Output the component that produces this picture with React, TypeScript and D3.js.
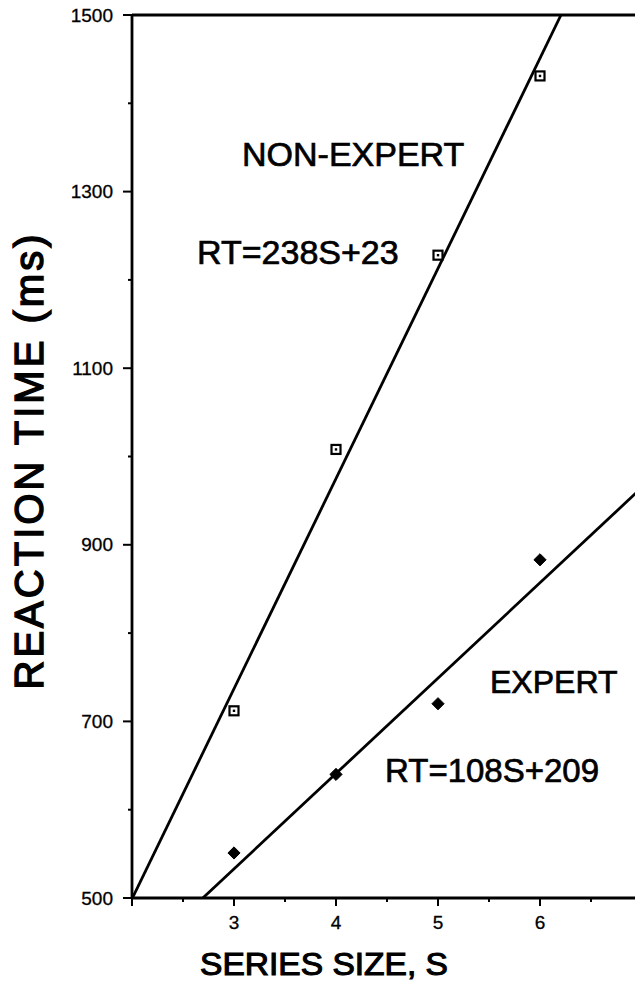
import React from "react";
import * as d3 from "d3";

const seriesSize = [3, 4, 5, 6];
const nonExpertRT = [712, 1008, 1228, 1431];
const expertRT = [551, 640, 720, 883];
const fitNonExpert = { slope: 238, intercept: 23 };
const fitExpert = { slope: 108, intercept: 209 };
const yTickLabels = [500, 700, 900, 1100, 1300, 1500];
const yMinorTicks = [600, 800, 1000, 1200, 1400];
const xTickLabels = [3, 4, 5, 6];
const xMajorTicks = [2, 3, 4, 5, 6, 7];
const xMinorTicks = [2.5, 3.5, 4.5, 5.5, 6.5];

const W = 635, H = 1005;
const FONT = "'Liberation Sans', Arial, Helvetica, sans-serif";

export default function App() {
  const x = d3.scaleLinear().domain([2, 7]).range([132, 642]);
  const y = d3.scaleLinear().domain([500, 1500]).range([898, 15]);

  const fitLine = (f: { slope: number; intercept: number }) => {
    const s0 = Math.max(2, (500 - f.intercept) / f.slope);
    const s1 = Math.min(7, (1500 - f.intercept) / f.slope);
    const pts: [number, number][] = [s0, s1].map((s) => [x(s), y(f.slope * s + f.intercept)]);
    return d3.line()(pts) || "";
  };

  const diamond = d3.symbol().type(d3.symbolDiamond2).size(95)();
  const heavy = { stroke: "#000", strokeWidth: 0.7 };

  return (
    <svg width={W} height={H} style={{ position: "absolute", left: 0, top: 0, background: "#fff" }} fontFamily={FONT}>
      <rect x={0} y={0} width={W} height={H} fill="#fff" />
      <defs>
        <clipPath id="plot">
          <rect x={x(2)} y={y(1500)} width={x(7) - x(2)} height={y(500) - y(1500)} />
        </clipPath>
      </defs>
      {/* frame */}
      <line x1={x(2)} x2={x(7)} y1={y(1500)} y2={y(1500)} stroke="#000" strokeWidth={2.8} />
      <line x1={x(7)} x2={x(7)} y1={y(1500)} y2={y(500)} stroke="#000" strokeWidth={2.8} />
      <line x1={x(2)} x2={x(7)} y1={y(500)} y2={y(500)} stroke="#000" strokeWidth={2.8} />
      <line x1={x(2)} x2={x(2)} y1={y(1500)} y2={y(500)} stroke="#000" strokeWidth={2.8} />
      {/* y ticks */}
      {yTickLabels.map((v) => (
        <g key={"yt" + v}>
          <line x1={x(2) - 9} x2={x(2)} y1={y(v)} y2={y(v)} stroke="#000" strokeWidth={2} />
          <text x={113} y={y(v)} dy="0.35em" textAnchor="end" fontSize={19} {...{ stroke: "#000", strokeWidth: 0.3 }}>{v}</text>
        </g>
      ))}
      {yMinorTicks.map((v) => (
        <line key={"ym" + v} x1={x(2) - 4} x2={x(2)} y1={y(v)} y2={y(v)} stroke="#000" strokeWidth={2} />
      ))}
      {/* x ticks */}
      {xMajorTicks.map((v) => (
        <line key={"xt" + v} x1={x(v)} x2={x(v)} y1={y(500)} y2={y(500) + 8} stroke="#000" strokeWidth={2} />
      ))}
      {xMinorTicks.map((v) => (
        <line key={"xm" + v} x1={x(v)} x2={x(v)} y1={y(500)} y2={y(500) + 4} stroke="#000" strokeWidth={2} />
      ))}
      {xTickLabels.map((v) => (
        <text key={"xl" + v} x={x(v)} y={y(500) + 31} textAnchor="middle" fontSize={19} {...{ stroke: "#000", strokeWidth: 0.3 }}>{v}</text>
      ))}
      {/* fit lines */}
      <g clipPath="url(#plot)">
        <path d={fitLine(fitNonExpert)} stroke="#000" strokeWidth={2.8} fill="none" />
        <path d={fitLine(fitExpert)} stroke="#000" strokeWidth={2.8} fill="none" />
      </g>
      {/* markers */}
      {seriesSize.map((s, i) => (
        <g key={"ne" + s} transform={`translate(${x(s)},${y(nonExpertRT[i])})`}>
          <rect x={-4.5} y={-4.5} width={9} height={9} fill="#fff" stroke="#000" strokeWidth={2.2} />
          <rect x={-1.2} y={-1.2} width={2.4} height={2.4} fill="#000" />
        </g>
      ))}
      {seriesSize.map((s, i) => (
        <path key={"ex" + s} d={diamond || ""} transform={`translate(${x(s)},${y(expertRT[i])})`} fill="#000" stroke="#000" strokeWidth={1} strokeLinejoin="round" />
      ))}
      {/* annotations */}
      <text x={242} y={166} fontSize={34} {...heavy}>NON-EXPERT</text>
      <text x={197} y={264} fontSize={34} {...heavy}>RT=238S+23</text>
      <text x={490} y={693} fontSize={32} {...heavy}>EXPERT</text>
      <text x={385} y={782} fontSize={33} {...heavy}>RT=108S+209</text>
      {/* axis titles */}
      <text x={324} y={975} textAnchor="middle" fontSize={31} stroke="#000" strokeWidth={1.1}
        textLength={248} lengthAdjust="spacingAndGlyphs">SERIES SIZE, S</text>
      <text transform="translate(43,462) rotate(-90)" textAnchor="middle" fontSize={40} stroke="#000" strokeWidth={1.4}
        textLength={455} lengthAdjust="spacing">REACTION TIME (ms)</text>
    </svg>
  );
}
